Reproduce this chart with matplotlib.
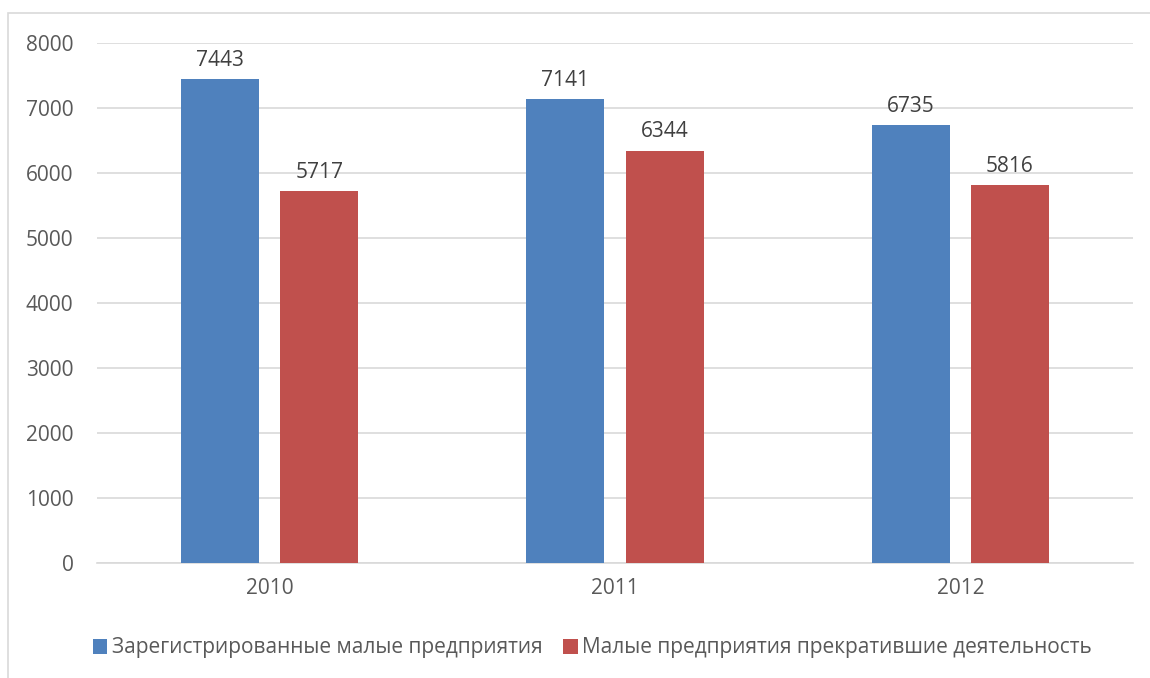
import numpy as np
import matplotlib.pyplot as plt
from matplotlib.patches import Rectangle

years = ['2010', '2011', '2012']
registered = [7443, 7141, 6735]
closed = [5717, 6344, 5816]
series_names = ['Зарегистрированные малые предприятия',
                'Малые предприятия прекратившие деятельность']
yticks = [0, 1000, 2000, 3000, 4000, 5000, 6000, 7000, 8000]

blue = '#4F81BD'
red = '#C0504D'
txt = '#595959'

plt.rcParams['font.family'] = ['Open Sans', 'DejaVu Sans']

fig = plt.figure(figsize=[11.5, 6.78], dpi=100)
ax = fig.add_axes([97 / 1150, 1 - 563 / 678, (1133 - 97) / 1150, (563 - 43) / 678])

# outer chart frame (left and top edges visible only)
fig.patches.append(Rectangle((8 / 1150, -0.1), 1.2, 1 - 13 / 678 + 0.1,
                             transform=fig.transFigure, fill=False,
                             edgecolor='#D9D9D9', linewidth=1.2))

x = np.arange(len(years))
width = 0.226
off = 0.1435
b1 = ax.bar(x - off, registered, width, color=blue, label=series_names[0], zorder=3)
b2 = ax.bar(x + off, closed, width, color=red, label=series_names[1], zorder=3)

for bars in (b1, b2):
    for rect in bars:
        h = rect.get_height()
        ax.annotate(f'{h}', (rect.get_x() + rect.get_width() / 2, h),
                    xytext=(0, 6), textcoords='offset points',
                    ha='center', va='bottom', fontsize=15, color='#404040')

ax.set_xlim(-0.5, 2.5)
ax.set_ylim(0, 8000)
ax.set_yticks(yticks)
ax.set_xticks(x)
ax.set_xticklabels(years)
ax.tick_params(axis='both', length=0, labelsize=15, colors=txt)
ax.tick_params(axis='y', pad=17)
ax.tick_params(axis='x', pad=11)
ax.grid(axis='y', color='#D9D9D9', linewidth=1.2, zorder=0)
for s in ['top', 'right', 'left']:
    ax.spines[s].set_visible(False)
ax.spines['bottom'].set_color('#D9D9D9')
ax.spines['bottom'].set_linewidth(1.2)

fig.legend(loc='center', bbox_to_anchor=(0.515, 1 - 648 / 678), ncol=2,
           frameon=False, fontsize=15, labelcolor=txt, handlelength=0.7,
           handleheight=0.7, handletextpad=0.2, columnspacing=1.0)

fig.savefig('out.png', dpi=100)
